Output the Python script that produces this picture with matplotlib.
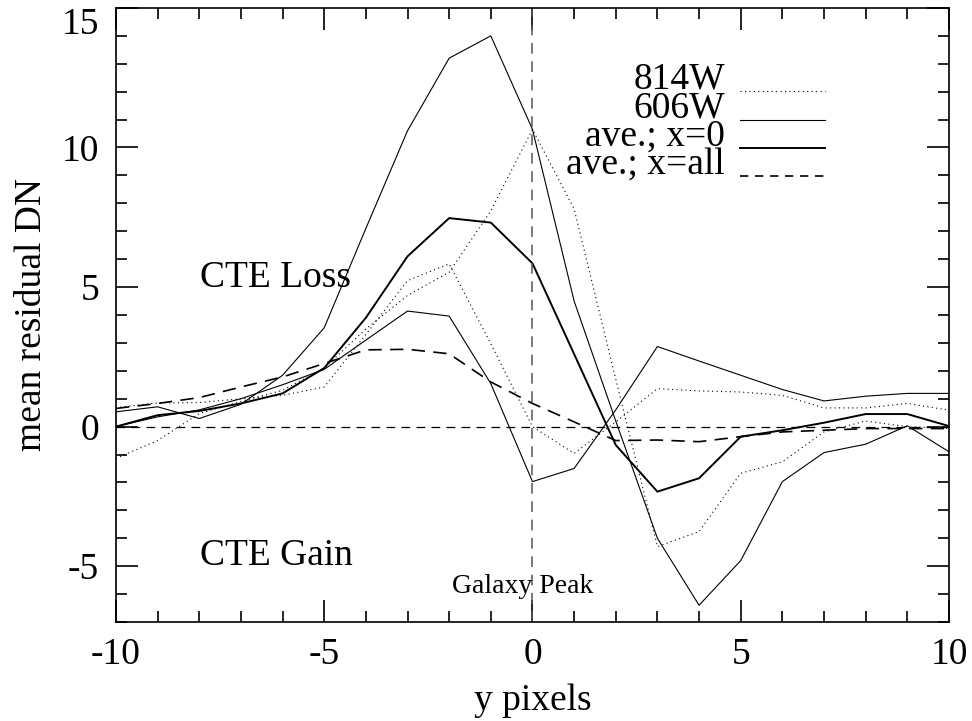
import numpy as np
import matplotlib
matplotlib.use("Agg")
import matplotlib.pyplot as plt
from matplotlib.ticker import MultipleLocator

plt.rcParams['font.family'] = ['Liberation Serif', 'DejaVu Serif']
plt.rcParams['axes.unicode_minus'] = False

# y pixel offsets from the galaxy peak
y_pix = np.arange(-10, 11)

# 814W, two curves (dotted)
f814_a = [-1.14, -0.5, 0.47, 0.9, 1.3, 2.1, 3.5, 4.7, 5.53, 7.73, 10.65,
          7.8, 1.7, -4.3, -3.76, -1.67, -1.26, -0.19, 0.2, 0.0, -0.07]
f814_b = [0.68, 0.85, 0.86, 1.0, 1.12, 1.42, 3.3, 5.23, 5.83, 2.97, 0.0,
          -0.96, 0.17, 1.36, 1.28, 1.24, 1.12, 0.67, 0.67, 0.83, 0.59]
# 606W, two curves (thin solid)
f606_a = [0.53, 0.71, 0.29, 0.8, 1.84, 3.54, 7.1, 10.6, 13.2, 14.0, 10.65,
          4.5, 0.2, -4.0, -6.4, -4.8, -1.97, -0.93, -0.63, 0.03, -0.9]
f606_b = [0.0, 0.35, 0.6, 1.0, 1.5, 2.05, 3.1, 4.14, 3.96, 1.54, -1.97,
          -1.5, 0.6, 2.87, 2.35, 1.84, 1.33, 0.92, 1.09, 1.19, 1.19]
# averages
ave_x0 = [0.0, 0.41, 0.56, 0.83, 1.19, 2.1, 3.9, 6.1, 7.47, 7.31, 5.85,
          2.6, -0.66, -2.33, -1.85, -0.36, -0.13, 0.14, 0.45, 0.45, 0.02]
ave_xall = [0.65, 0.83, 1.04, 1.42, 1.78, 2.26, 2.75, 2.77, 2.61, 1.6, 0.83,
            0.17, -0.5, -0.48, -0.54, -0.36, -0.19, -0.13, -0.07, -0.07, -0.07]

legend_labels = ['814W', '606W', 'ave.; x=0', 'ave.; x=all']

fs = 27

fig = plt.figure(figsize=(9.72, 7.21), dpi=100)
ax = fig.add_axes([0.1193, 0.1373, 0.857, 0.8517])

thin = 0.8
dot = (0, (1, 3))
ax.plot(y_pix, f814_a, color='black', lw=thin, ls=dot)
ax.plot(y_pix, f814_b, color='black', lw=thin, ls=dot)
ax.plot(y_pix, f606_a, color='black', lw=thin)
ax.plot(y_pix, f606_b, color='black', lw=thin)
ax.plot(y_pix, ave_x0, color='black', lw=1.4)
ax.plot(y_pix, ave_xall, color='black', lw=1.2, ls=(0, (8, 5)))

ax.axhline(0, color='black', lw=0.9, ls=(0, (7, 5)))
ax.axvline(0, color='#555555', lw=1.1, ls=(0, (7, 5)))

ax.set_xlim(-10, 10)
ax.set_ylim(-7, 15)
ax.xaxis.set_major_locator(MultipleLocator(5))
ax.xaxis.set_minor_locator(MultipleLocator(1))
ax.yaxis.set_major_locator(MultipleLocator(5))
ax.yaxis.set_minor_locator(MultipleLocator(1))
ax.tick_params(which='both', direction='in', top=True, right=True, width=1.2)
ax.tick_params(which='major', length=16, labelsize=fs)
ax.tick_params(axis='x', which='major', pad=11)
ax.tick_params(axis='y', which='major', pad=12)
ax.tick_params(which='minor', length=8)
for s in ax.spines.values():
    s.set_linewidth(1.2)

# IDL keeps the top label inside the figure
fig.canvas.draw()
for t in ax.yaxis.get_major_ticks():
    if abs(t.get_loc() - 15) < 1e-6:
        t.label1.set_verticalalignment('top')

ax.set_xlabel('y pixels', fontsize=fs)
ax.set_ylabel('mean residual DN', fontsize=fs)
ax.xaxis.set_label_coords(0.5, -0.1)
ax.yaxis.set_label_coords(-0.08, 0.5)

# hand made legend, like the IDL one
styles = [dict(lw=thin, ls=dot), dict(lw=thin), dict(lw=1.4),
          dict(lw=1.2, ls=(0, (5, 4)))]
ly = [12.02, 10.98, 9.98, 8.98]
for lab, st, yy in zip(legend_labels, styles, ly):
    ax.text(4.62, yy + 0.08, lab, fontsize=fs, ha='right', va='baseline')
    ax.plot([4.98, 7.02], [yy, yy], color='black', **st)

ax.text(-7.98, 5.0, 'CTE Loss', fontsize=fs, ha='left', va='baseline')
ax.text(-7.98, -4.95, 'CTE Gain', fontsize=fs, ha='left', va='baseline')
ax.text(-0.24, -5.95, 'Galaxy Peak', fontsize=20, ha='center', va='baseline')

fig.savefig('out.png', dpi=100)
